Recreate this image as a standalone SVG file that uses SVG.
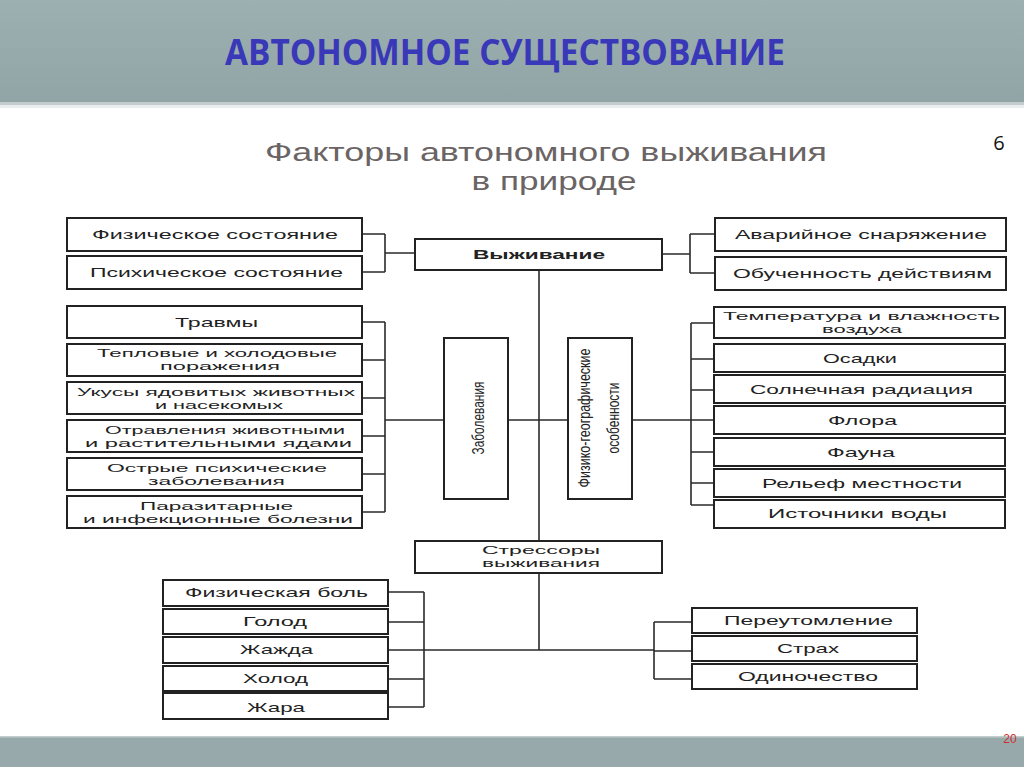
<svg xmlns="http://www.w3.org/2000/svg" width="1024" height="767" viewBox="0 0 1024 767">
<defs>
<linearGradient id="hdr" x1="0" y1="0" x2="0" y2="1">
<stop offset="0" stop-color="#9db0b1"/>
<stop offset="1" stop-color="#91a4a6"/>
</linearGradient>
<style>
.box{fill:#fff;stroke:#222;stroke-width:2}
.ln{stroke:#2a2a2a;stroke-width:1.6;fill:none}
.t{font-family:"Liberation Sans",Arial,sans-serif;font-size:13px;fill:#222;text-anchor:middle}
.t2{font-family:"Liberation Sans",Arial,sans-serif;font-size:11px;fill:#222;text-anchor:middle}
.v{font-family:"Liberation Sans",Arial,sans-serif;font-size:17px;fill:#222;text-anchor:middle}
.sub{font-family:"Liberation Sans",Arial,sans-serif;font-size:25px;fill:#6b6464;text-anchor:middle}
</style>
</defs>
<rect x="0" y="0" width="1024" height="767" fill="#fff"/>
<rect x="0" y="0" width="1024" height="102" fill="url(#hdr)"/>
<rect x="0" y="102" width="1024" height="3" fill="#c3cdcd"/>
<rect x="0" y="105" width="1024" height="3" fill="#e9eded"/>
<rect x="0" y="736" width="1024" height="31" fill="#97a9ab"/>
<rect x="0" y="736" width="1024" height="1.5" fill="#c2cdcd"/>
<text x="505" y="65" font-family="'Open Sans','Liberation Sans',sans-serif" font-size="35" font-weight="bold" fill="#3838b8" text-anchor="middle" textLength="560" lengthAdjust="spacingAndGlyphs">АВТОНОМНОЕ СУЩЕСТВОВАНИЕ</text>
<text class="sub" x="546" y="161" textLength="562" lengthAdjust="spacingAndGlyphs">Факторы автономного выживания</text>
<text class="sub" x="554" y="190" textLength="165" lengthAdjust="spacingAndGlyphs">в природе</text>
<text x="999" y="150" font-family="'Open Sans','DejaVu Sans',sans-serif" font-size="20" fill="#111" text-anchor="middle">6</text>
<text x="1010" y="743" font-family="'Liberation Sans',sans-serif" font-size="12" fill="#d03030" text-anchor="middle">20</text>

<g id="connectors">
<path class="ln" d="M362 234H385M362 272H385M385 234V272M385 253H415"/>
<path class="ln" d="M662 254H690M690 234V273M690 234H715M690 273H715"/>
<path class="ln" d="M539 270V541"/>
<path class="ln" d="M362 322H385M362 360H385M362 398H385M362 436H385M362 474H385M362 512H385M385 322V512M385 420H444"/>
<path class="ln" d="M508 420H568M632 420H691"/>
<path class="ln" d="M691 323V505M691 323H714M691 359H714M691 390H714M691 420H714M691 452H714M691 483H714M691 505H714"/>
<path class="ln" d="M539 573V650M424 650H654"/>
<path class="ln" d="M424 592V707M388 592H424M388 622H424M388 650H424M388 679H424M388 707H424"/>
<path class="ln" d="M654 622V679M654 622H692M654 651H692M654 679H692"/>
</g>

<g id="n-fiz-sost"><rect class="box" x="67" y="218" width="295" height="33"/><text class="t" x="215" y="239" textLength="246" lengthAdjust="spacingAndGlyphs">Физическое состояние</text></g>
<g id="n-psih-sost"><rect class="box" x="67" y="256" width="295" height="33"/><text class="t" x="216.5" y="277" textLength="253" lengthAdjust="spacingAndGlyphs">Психическое состояние</text></g>
<g id="n-vyzhivanie"><rect class="box" x="415" y="239" width="247" height="31"/><text class="t" x="539" y="259" font-weight="bold" textLength="132" lengthAdjust="spacingAndGlyphs">Выживание</text></g>
<g id="n-avar"><rect class="box" x="715" y="218" width="291" height="33"/><text class="t" x="861" y="239" textLength="252" lengthAdjust="spacingAndGlyphs">Аварийное снаряжение</text></g>
<g id="n-obuch"><rect class="box" x="715" y="257" width="291" height="33"/><text class="t" x="862.5" y="278" textLength="259" lengthAdjust="spacingAndGlyphs">Обученность действиям</text></g>

<g id="n-travmy"><rect class="box" x="67" y="306" width="295" height="32"/><text class="t" x="216.5" y="327" textLength="83" lengthAdjust="spacingAndGlyphs">Травмы</text></g>
<g id="n-teplo"><rect class="box" x="67" y="344" width="295" height="32"/><text class="t2" x="217" y="357" textLength="240" lengthAdjust="spacingAndGlyphs">Тепловые и холодовые</text><text class="t2" x="220" y="370" textLength="120" lengthAdjust="spacingAndGlyphs">поражения</text></g>
<g id="n-ukusy"><rect class="box" x="67" y="382" width="295" height="32"/><text class="t2" x="216" y="396" textLength="278" lengthAdjust="spacingAndGlyphs">Укусы ядовитых животных</text><text class="t2" x="219" y="409" textLength="128" lengthAdjust="spacingAndGlyphs">и насекомых</text></g>
<g id="n-otrav"><rect class="box" x="67" y="420" width="295" height="32"/><text class="t2" x="225" y="434" textLength="240" lengthAdjust="spacingAndGlyphs">Отравления животными</text><text class="t2" x="218.5" y="447" textLength="267" lengthAdjust="spacingAndGlyphs">и растительными ядами</text></g>
<g id="n-ostrye"><rect class="box" x="67" y="458" width="295" height="32"/><text class="t2" x="217" y="472" textLength="220" lengthAdjust="spacingAndGlyphs">Острые психические</text><text class="t2" x="216.5" y="485" textLength="137" lengthAdjust="spacingAndGlyphs">заболевания</text></g>
<g id="n-parazit"><rect class="box" x="67" y="496" width="295" height="32"/><text class="t2" x="216.5" y="510" textLength="153" lengthAdjust="spacingAndGlyphs">Паразитарные</text><text class="t2" x="218" y="523" textLength="270" lengthAdjust="spacingAndGlyphs">и инфекционные болезни</text></g>

<g id="n-zabol"><rect class="box" x="444" y="338" width="64" height="161"/><text class="v" transform="translate(484 418) rotate(-90)" textLength="73" lengthAdjust="spacingAndGlyphs">Заболевания</text></g>
<g id="n-fgo"><rect class="box" x="568" y="338" width="64" height="161"/><text class="v" transform="translate(590 418) rotate(-90)" textLength="139" lengthAdjust="spacingAndGlyphs">Физико-географические</text><text class="v" transform="translate(619 418) rotate(-90)" textLength="71" lengthAdjust="spacingAndGlyphs">особенности</text></g>

<g id="n-temp"><rect class="box" x="714" y="307" width="291" height="31"/><text class="t2" x="861.5" y="320" textLength="277" lengthAdjust="spacingAndGlyphs">Температура и влажность</text><text class="t2" x="862" y="333" textLength="80" lengthAdjust="spacingAndGlyphs">воздуха</text></g>
<g id="n-osadki"><rect class="box" x="714" y="344" width="291" height="28"/><text class="t" x="860" y="363" textLength="74" lengthAdjust="spacingAndGlyphs">Осадки</text></g>
<g id="n-solnce"><rect class="box" x="714" y="375" width="291" height="28"/><text class="t" x="861.5" y="394" textLength="223" lengthAdjust="spacingAndGlyphs">Солнечная радиация</text></g>
<g id="n-flora"><rect class="box" x="714" y="406" width="291" height="28"/><text class="t" x="862.5" y="425" textLength="69" lengthAdjust="spacingAndGlyphs">Флора</text></g>
<g id="n-fauna"><rect class="box" x="714" y="438" width="291" height="28"/><text class="t" x="861" y="457" textLength="68" lengthAdjust="spacingAndGlyphs">Фауна</text></g>
<g id="n-relief"><rect class="box" x="714" y="469" width="291" height="28"/><text class="t" x="862" y="488" textLength="200" lengthAdjust="spacingAndGlyphs">Рельеф местности</text></g>
<g id="n-voda"><rect class="box" x="714" y="500" width="291" height="28"/><text class="t" x="857.5" y="518" textLength="179" lengthAdjust="spacingAndGlyphs">Источники воды</text></g>

<g id="n-stress"><rect class="box" x="415" y="541" width="247" height="32"/><text class="t2" x="541" y="554" textLength="118" lengthAdjust="spacingAndGlyphs">Стрессоры</text><text class="t2" x="541" y="567" textLength="118" lengthAdjust="spacingAndGlyphs">выживания</text></g>

<g id="n-bol"><rect class="box" x="163" y="580" width="225" height="26"/><text class="t" x="276.5" y="597" textLength="183" lengthAdjust="spacingAndGlyphs">Физическая боль</text></g>
<g id="n-golod"><rect class="box" x="163" y="609" width="225" height="25"/><text class="t" x="275" y="626" textLength="64" lengthAdjust="spacingAndGlyphs">Голод</text></g>
<g id="n-zhazhda"><rect class="box" x="163" y="637" width="225" height="26"/><text class="t" x="276.5" y="654" textLength="73" lengthAdjust="spacingAndGlyphs">Жажда</text></g>
<g id="n-holod"><rect class="box" x="163" y="666" width="225" height="25"/><text class="t" x="275.5" y="683" textLength="65" lengthAdjust="spacingAndGlyphs">Холод</text></g>
<g id="n-zhara"><rect class="box" x="163" y="693" width="225" height="26"/><text class="t" x="276" y="712" textLength="58" lengthAdjust="spacingAndGlyphs">Жара</text></g>

<g id="n-pereut"><rect class="box" x="692" y="608" width="225" height="25"/><text class="t" x="808.5" y="625" textLength="169" lengthAdjust="spacingAndGlyphs">Переутомление</text></g>
<g id="n-strah"><rect class="box" x="692" y="636" width="225" height="25"/><text class="t" x="808" y="653" textLength="62" lengthAdjust="spacingAndGlyphs">Страх</text></g>
<g id="n-odin"><rect class="box" x="692" y="664" width="225" height="25"/><text class="t" x="808" y="681" textLength="140" lengthAdjust="spacingAndGlyphs">Одиночество</text></g>
</svg>
